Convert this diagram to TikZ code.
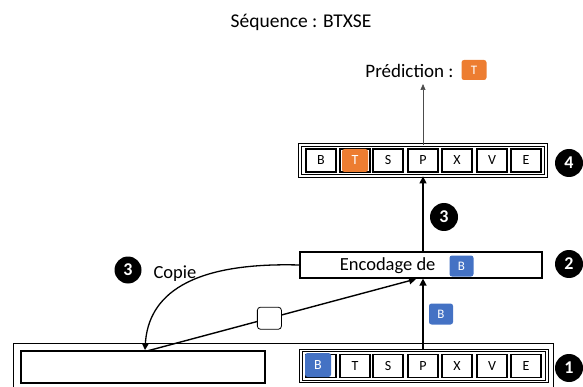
\documentclass[tikz,border=0pt]{standalone}
\usepackage{fontspec}
\setmainfont{Carlito}
\usetikzlibrary{arrows.meta}
\definecolor{orangeT}{HTML}{ED7D31}
\definecolor{blueB}{HTML}{4472C4}
\begin{document}
\begin{tikzpicture}[x=1pt,y=-1pt,
  cell/.style={draw,line width=1.1pt,minimum width=30pt,minimum height=23pt,inner sep=0pt,font=\fontsize{14}{14}\selectfont},
  rowbox/.style={draw,double,line width=0.8pt,double distance=1.6pt,inner sep=0pt},
  num/.style={circle,fill=black,text=white,minimum size=28pt,inner sep=0pt,font=\fontsize{18}{18}\selectfont\bfseries},
  tag/.style={rounded corners=2.5pt,minimum width=24pt,minimum height=21pt,inner sep=0pt,text=white,font=\fontsize{13}{13}\selectfont},
  conn/.style={line width=1.4pt,-{Triangle[length=7pt,width=7pt]}},
  lbl/.style={font=\fontsize{18.5}{18.5}\selectfont}]
\useasboundingbox (0,0) rectangle (583,387);

% title
\node[lbl,font=\fontsize{19.5}{19.5}\selectfont] (title) at (301,22) {Séquence : BTXSE};
% prediction
\node[lbl,anchor=east,font=\fontsize{19}{19}\selectfont] (pred) at (457,71) {Prédiction :};
\node[tag,fill=orangeT,minimum width=25pt,minimum height=20pt] (predT) at (474,70) {T};
\coordinate (predtip) at (423,84);

% row 4
\node[rowbox,minimum width=246pt,minimum height=31pt] (row4) at (423,160.5) {};
\foreach \l/\x [count=\i] in {B/321,T/355,S/388,P/423,X/457,V/492,E/526}{
  \node[cell] (r4c\i) at (\x,160.5) {\l};
}
\node[tag,fill=orangeT,minimum width=26pt,minimum height=23pt,font=\fontsize{14}{14}\selectfont] (r4T) at (355,160.5) {T};
\node[num] (n4) at (569,163) {4};

% encoding box
\node[draw,line width=1.2pt,minimum width=242pt,minimum height=26pt,inner sep=0pt] (enc) at (421,265) {};
\node[lbl,anchor=east] (enctext) at (439,266) {Encodage de};
\node[tag,fill=blueB] (encB) at (461.5,266) {B};
\node[num] (n2) at (569,264) {2};
\node[num] (n3a) at (444,217) {3};

% row 1
\node[rowbox,minimum width=246pt,minimum height=31pt] (row1) at (424,366) {};
\node[cell] (r1c1) at (321,366) {};
\foreach \l/\x [count=\i from 2] in {T/355,S/388,P/423,X/457,V/492,E/526}{
  \node[cell] (r1c\i) at (\x,366) {\l};
}
\node[tag,fill=blueB,minimum width=26pt,minimum height=24pt,font=\fontsize{14}{14}\selectfont] (r1B) at (318,365) {B};
\node[num] (n1) at (569,368) {1};

% outer thin frame
\draw[line width=0.6pt] (13,390) -- (13,343) -- (553,343) -- (553,390);

% left box
\node[draw,line width=1.4pt,minimum width=244pt,minimum height=32pt,inner sep=0pt] (left) at (143,367) {};
\coordinate (copytip) at (145,350);
\coordinate (linestart) at (147,351);
\coordinate (encin) at (416,279);

% copy label
\node[num,minimum size=27pt] (n3b) at (128,270) {3};
\node[lbl,anchor=west] (copie) at (150,274) {Copie};

% connectors
\draw[line width=0.7pt,draw=black!70,-{Triangle[length=6pt,width=5pt]}] (row4.north) -- (predtip);
\draw[conn] (enc.north -| r4c4) -- (row4.south -| r4c4);
\draw[conn] (row1.north -| r4c4) -- (enc.south -| r4c4);
\node[tag,fill=blueB] (midB) at (441,314) {B};
\draw[line width=1.3pt,-{Triangle[length=6pt,width=6pt]}] (enc.west) .. controls (190,262) and (148,295) .. (copytip);
\draw[conn] (linestart) -- node[pos=0.455,draw,fill=white,rounded corners=3pt,minimum width=24pt,minimum height=22pt,inner sep=0pt,line width=0.8pt] (sq) {} (encin);
\end{tikzpicture}
\end{document}
